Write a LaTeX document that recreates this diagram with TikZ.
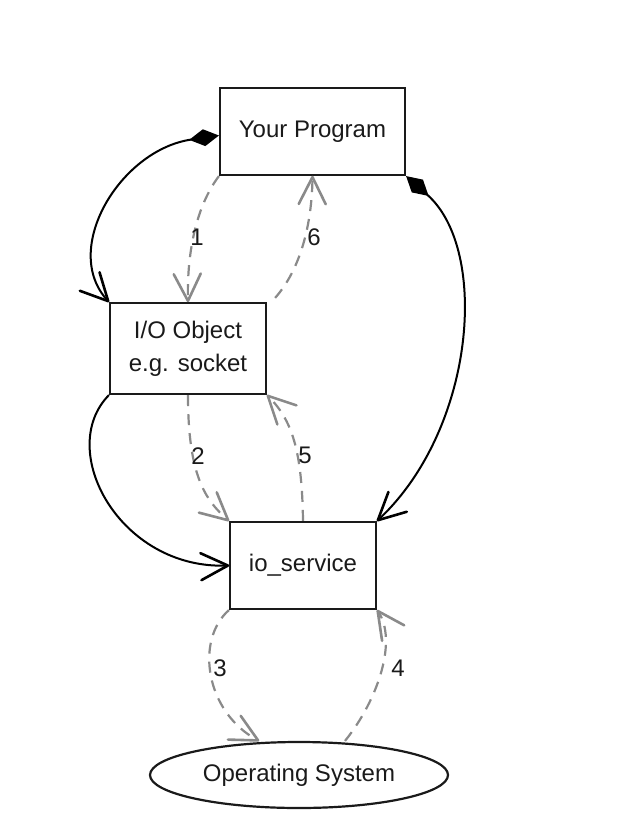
\documentclass[tikz,border=0pt]{standalone}
\usepackage{fontspec}
\setmainfont{Liberation Sans}
\usetikzlibrary{arrows.meta,shapes.geometric}
\pgfdeclarearrow{
  name = VBarb,
  parameters = {\the\pgfarrowlength,\the\pgfarrowwidth},
  setup code = {
    \pgfarrowssettipend{0pt}
    \pgfarrowssetlineend{-1.5pt}
    \pgfarrowssetbackend{-\pgfarrowlength}
    \pgfarrowssetvisualbackend{-\pgfarrowlength}
    \pgfarrowshullpoint{0pt}{0pt}
    \pgfarrowsupperhullpoint{-\pgfarrowlength}{.5\pgfarrowwidth}
    \pgfarrowssavethe\pgfarrowlength
    \pgfarrowssavethe\pgfarrowwidth
  },
  drawing code = {
    \pgfsetdash{}{0pt}
    \pgfsetlinewidth{2.6pt}
    \pgfsetroundjoin
    \pgfsetroundcap
    \pgfpathmoveto{\pgfqpoint{-\pgfarrowlength}{.5\pgfarrowwidth}}
    \pgfpathlineto{\pgfqpoint{-1pt}{0pt}}
    \pgfpathlineto{\pgfqpoint{-\pgfarrowlength}{-.5\pgfarrowwidth}}
    \pgfusepathqstroke
  },
  defaults = {length = 28pt, width = 27pt}
}
\definecolor{ink}{HTML}{1A1A1A}
\definecolor{flow}{HTML}{8A8A8A}
\tikzset{
  boxnode/.style={draw=ink,line width=2.2pt,rectangle,align=center,font=\fontsize{24}{33}\selectfont,text=ink},
  ellnode/.style={draw=ink,line width=2.2pt,ellipse,font=\fontsize{24}{30}\selectfont,text=ink},
  owns/.style={draw=black,line width=2pt,{Diamond[length=30pt,width=17pt]}-{VBarb}},
  uses/.style={draw=black,line width=2pt,-{VBarb}},
  flowline/.style={draw=flow,line width=2.2pt,dash pattern=on 11pt off 8pt,-{VBarb}},
  steplabel/.style={font=\fontsize{24}{28}\selectfont,text=ink,inner sep=1pt}
}
\begin{document}
\begin{tikzpicture}[x=1pt,y=-1pt]
\useasboundingbox (0,0) rectangle (629,835);
\node[boxnode,minimum width=185pt,minimum height=87pt] (prog) at (312.5,131.5) {Your Program};
\node[boxnode,minimum width=156pt,minimum height=91pt] (ioobj) at (188,348.5) {I/O Object\\e.g. socket};
\node[boxnode,minimum width=146pt,minimum height=87pt] (svc) at (303,565.5) {io\_service};
\node[ellnode,minimum width=298pt,minimum height=66pt,inner sep=0pt] (os) at (299,775) {Operating System};

% ownership / usage
\draw[owns] ([yshift=-4pt]prog.west) .. controls (120,150) and (60,250) .. (ioobj.north west);
\draw[owns] (prog.south east) .. controls (490,250) and (475,430) .. (svc.north east);
\draw[uses] (ioobj.south west) .. controls (55,450) and (120,570) .. (svc.west);

% numbered flow
\draw[flowline] (prog.south west) .. controls (192,212) and (187,265) .. (ioobj.north);
\node[steplabel] (n1) at (197,237) {1};
\draw[flowline] ([shift={(8pt,4pt)}]ioobj.north east) .. controls (300,270) and (312,225) .. (prog.south);
\node[steplabel] (n6) at (314,237) {6};
\draw[flowline] (ioobj.south) .. controls (188,475) and (205,500) .. (svc.north west);
\node[steplabel] (n2) at (198,456) {2};
\draw[flowline] (svc.north) .. controls (302,450) and (292,420) .. (ioobj.south east);
\node[steplabel] (n5) at (305,455) {5};
\draw[flowline] (svc.south west) .. controls (195,640) and (205,712) .. ([xshift=-40pt]os.north);
\node[steplabel] (n3) at (220,668) {3};
\draw[flowline] ([xshift=46pt]os.north) .. controls (378,700) and (398,640) .. (svc.south east);
\node[steplabel] (n4) at (398,668) {4};
\end{tikzpicture}
\end{document}
